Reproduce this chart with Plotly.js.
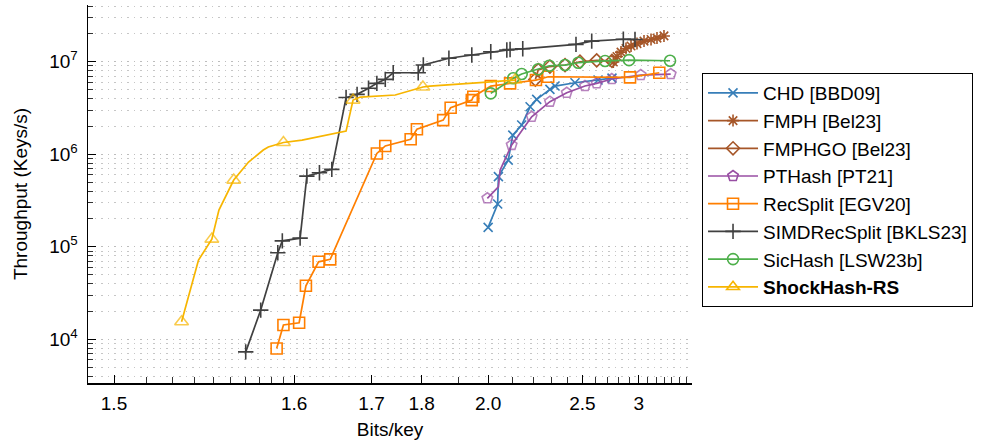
<!DOCTYPE html>
<html>
<head>
<meta charset="utf-8">
<script src="https://cdn.plot.ly/plotly-3.0.1.min.js"></script>
<style>html,body{margin:0;padding:0;background:#fff}#chart{width:983px;height:444px}</style>
</head>
<body>
<div id="chart"></div>
<script>
// ---- data (bits/key, throughput keys/s) ----
const chdX = [2.000, 2.037, 2.040, 2.081, 2.101, 2.142, 2.183, 2.217, 2.290, 2.320, 2.448, 2.620, 2.738];
const chdY = [1.62e5, 2.90e5, 5.74e5, 8.65e5, 1.61e6, 2.07e6, 3.26e6, 3.92e6, 5.03e6, 5.46e6, 5.93e6, 6.34e6, 6.66e6];

const fmphX = [2.750, 2.784, 2.821, 2.869, 2.919, 2.981, 3.057, 3.137, 3.208, 3.295];
const fmphY = [9.93e6, 1.14e7, 1.27e7, 1.39e7, 1.48e7, 1.57e7, 1.67e7, 1.74e7, 1.80e7, 1.90e7];

const fmphgoX = [2.210, 2.225, 2.290, 2.382, 2.483, 2.609, 2.738];
const fmphgoY = [6.42e6, 8.13e6, 8.87e6, 9.21e6, 1.00e7, 1.035e7, 1.02e7];

const ptX = [1.997, 2.040, 2.047, 2.096, 2.191, 2.290, 2.393, 2.519, 2.609, 2.736, 3.021, 3.383];
const ptY = [3.34e5, 4.45e5, 6.75e5, 1.26e6, 2.54e6, 3.70e6, 4.62e6, 5.46e6, 5.84e6, 6.50e6, 7.18e6, 7.36e6];
const ptMarked = [1,0,0,1,1,1,1,1,1,1,1,1];

const rsX = [1.584, 1.590, 1.605, 1.612, 1.626, 1.640, 1.709, 1.724, 1.775, 1.789, 1.855, 1.876, 1.942, 1.947, 2.010, 2.089, 2.213, 2.280, 2.909, 3.236];
const rsY = [7.97e3, 1.43e4, 1.51e4, 3.79e4, 6.88e4, 7.31e4, 1.02e6, 1.23e6, 1.45e6, 1.86e6, 2.34e6, 3.18e6, 3.85e6, 4.19e6, 5.46e6, 5.84e6, 6.34e6, 6.88e6, 6.78e6, 7.60e6];

const simdX = [1.560, 1.571, 1.585, 1.589, 1.606, 1.613, 1.627, 1.642, 1.661, 1.677, 1.695, 1.709, 1.724, 1.739, 1.792, 1.804, 1.871, 1.942, 2.010, 2.075, 2.089, 2.147, 2.455, 2.570, 2.843, 2.960];
const simdY = [7.32e3, 2.07e4, 8.61e4, 1.16e5, 1.24e5, 5.81e5, 6.31e5, 6.87e5, 4.10e6, 4.44e6, 5.16e6, 5.84e6, 6.45e6, 7.60e6, 7.60e6, 9.21e6, 1.09e7, 1.18e7, 1.28e7, 1.34e7, 1.355e7, 1.38e7, 1.54e7, 1.67e7, 1.75e7, 1.74e7];

const sicX = [2.010, 2.103, 2.142, 2.225, 2.286, 2.382, 2.471, 2.678, 2.899, 3.374];
const sicY = [4.55e6, 6.62e6, 7.36e6, 8.28e6, 9.05e6, 9.21e6, 9.75e6, 1.02e7, 1.04e7, 1.025e7];

const shX = [1.524, 1.532, 1.539, 1.543, 1.552, 1.562, 1.573, 1.577, 1.590, 1.608, 1.661, 1.671, 1.682, 1.743, 1.803, 1.820, 1.996, 2.111];
const shY = [1.55e4, 7.18e4, 1.21e5, 2.49e5, 5.26e5, 8.24e5, 1.11e6, 1.20e6, 1.34e6, 1.42e6, 1.78e6, 3.85e6, 4.15e6, 4.37e6, 5.33e6, 5.46e6, 6.03e6, 6.34e6];
const shMarked = [1,0,1,0,1,0,0,0,1,0,0,1,0,0,1,0,0,1];

const seriesNames = ['CHD [BBD09]', 'FMPH [Bel23]', 'FMPHGO [Bel23]', 'PTHash [PT21]', 'RecSplit [EGV20]',
                     'SIMDRecSplit [BKLS23]', 'SicHash [LSW23b]', '<b>ShockHash-RS</b>'];

const xTickVals = [1.5, 1.6, 1.7, 1.8, 2.0, 2.5, 3];
const xTickText = ['1.5', '1.6', '1.7', '1.8', '2.0', '2.5', '3'];
const xMinorVals = [1.51,1.52,1.53,1.54,1.55,1.56,1.57,1.58,1.59,1.9,2.1,2.2,2.3,2.4,2.6,2.7,2.8,2.9,3.1,3.2,3.3,3.4,3.5,3.6];
const yTickVals = [1e4, 1e5, 1e6, 1e7];
const yTickText = ['10<sup>4</sup>', '10<sup>5</sup>', '10<sup>6</sup>', '10<sup>7</sup>'];

// ---- axis transform: log of (bits/key - offset) ----
const OFFSET = 1.46;
const T = v => Math.log10(v - OFFSET);
const tx = arr => arr.map(T);

const yMinor = [];
for (let e = 3; e <= 7; e++) for (let m = 2; m <= 9; m++) yMinor.push(m * Math.pow(10, e));

function sizes(marks, s) { return marks.map(m => m ? s : 0); }

function tr(name, xs, ys, color, symbol, size, opts) {
  opts = opts || {};
  return {
    type: 'scatter', mode: 'lines+markers', name: name,
    x: xs ? tx(xs) : [null], y: ys || [null],
    showlegend: opts.legend !== false,
    line: {color: color, width: 1.7},
    marker: {symbol: symbol, size: opts.msize || size, color: color, line: {color: color, width: 1.6}},
    hoverinfo: 'skip'
  };
}

const C = {chd: '#377eb8', fmph: '#a65628', pt: '#984ea3', rs: '#ff7f00', simd: '#404040', sic: '#4daf4a', sh: '#f7b500'};

const traces = [
  tr(seriesNames[0], chdX, chdY, C.chd, 'x-thin-open', 9),
  tr(seriesNames[1], fmphX, fmphY, C.fmph, 'asterisk-open', 10),
  tr(seriesNames[2], fmphgoX, fmphgoY, C.fmph, 'diamond-open', 10),
  tr(seriesNames[3], ptX, ptY, C.pt, 'pentagon-open', 11, {legend: false, msize: sizes(ptMarked, 11)}),
  tr(seriesNames[3], null, null, C.pt, 'pentagon-open', 11),
  tr(seriesNames[4], rsX, rsY, C.rs, 'square-open', 11),
  tr(seriesNames[5], simdX, simdY, C.simd, 'cross-thin-open', 11),
  tr(seriesNames[6], sicX, sicY, C.sic, 'circle-open', 11),
  tr(seriesNames[7], shX, shY, C.sh, 'triangle-up-open', 12, {legend: false, msize: sizes(shMarked, 12)}),
  tr(seriesNames[7], null, null, C.sh, 'triangle-up-open', 11)
];

const FONT = 'Liberation Sans, Arial, Helvetica, sans-serif';
const FS = 19;
const layout = {
  width: 983, height: 444,
  margin: {l: 88, r: 291, t: 5, b: 61, pad: 0},
  paper_bgcolor: '#fff', plot_bgcolor: '#fff',
  font: {family: FONT, size: FS, color: '#000'},
  showlegend: true,
  legend: {
    x: 1.0166, xanchor: 'left', y: 0.82, yanchor: 'top',
    bordercolor: '#000', borderwidth: 1, bgcolor: '#fff',
    font: {family: FONT, size: FS, color: '#000'},
    itemwidth: 50, tracegroupgap: 6, traceorder: 'normal'
  },
  xaxis: {
    type: 'linear', range: [-1.4765, 0.3483],
    tickmode: 'array', tickvals: tx(xTickVals), ticktext: xTickText,
    ticks: 'inside', ticklen: 8, tickwidth: 1, tickcolor: '#000',
    showline: true, linecolor: '#000', linewidth: 1.5, mirror: false,
    showgrid: false, zeroline: false, ticklabelstandoff: 3,
    minor: {tickmode: 'array', tickvals: tx(xMinorVals), ticks: 'inside', ticklen: 6, tickcolor: '#000', tickwidth: 0.8, showgrid: false},
    title: {text: 'Bits/key', standoff: 9, font: {family: FONT, size: FS}},
    tickfont: {family: FONT, size: FS}
  },
  yaxis: {
    type: 'log', range: [3.528, 7.613],
    tickmode: 'array', tickvals: yTickVals, ticktext: yTickText,
    ticks: 'inside', ticklen: 8, tickwidth: 1, tickcolor: '#000',
    showline: true, linecolor: '#000', linewidth: 1.5, mirror: false,
    showgrid: true, gridcolor: '#bdbdbd', griddash: '1.5px,5px', gridwidth: 1,
    zeroline: false, ticklabelstandoff: 5,
    minor: {tickmode: 'array', tickvals: yMinor, ticks: 'inside', ticklen: 5, tickcolor: '#000', tickwidth: 0.8,
            showgrid: true, gridcolor: '#c6c6c6', griddash: '1.5px,5px', gridwidth: 1},
    title: {text: 'Throughput (Keys/s)', standoff: 16, font: {family: FONT, size: FS}},
    tickfont: {family: FONT, size: FS}
  }
};

Plotly.newPlot('chart', traces, layout, {displayModeBar: false, staticPlot: true});
</script>
</body>
</html>
